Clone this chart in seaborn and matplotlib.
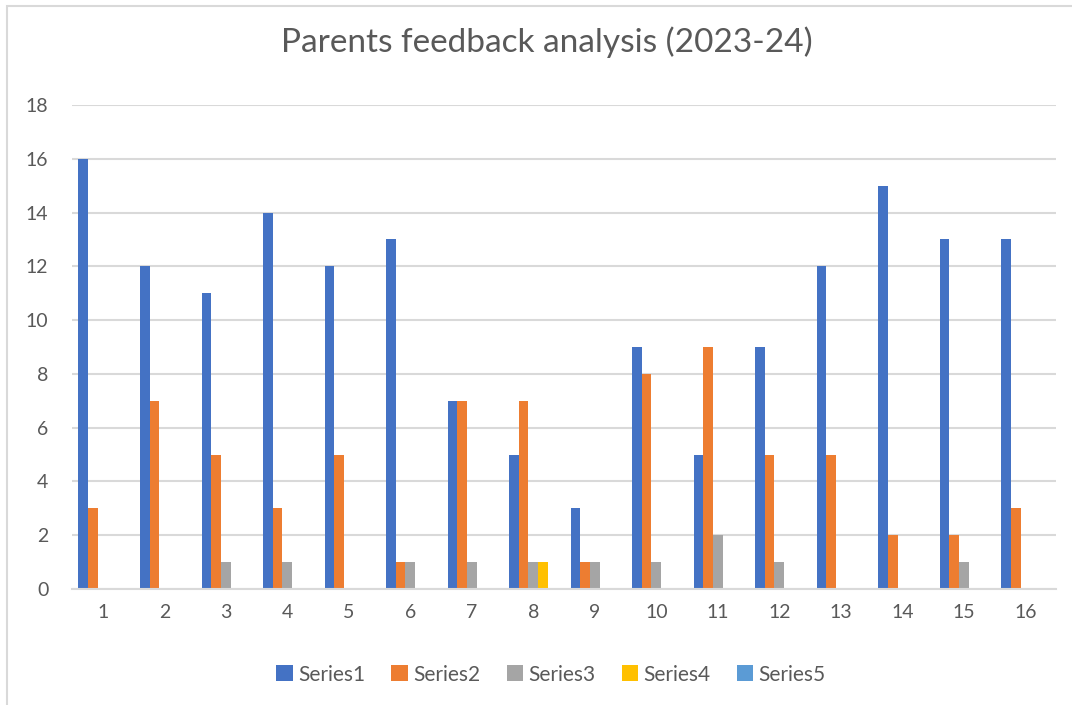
import matplotlib
matplotlib.use("Agg")
import matplotlib.pyplot as plt
import seaborn as sns
import pandas as pd
from matplotlib.patches import Rectangle

categories = [str(i) for i in range(1, 17)]
series_names = ["Series1", "Series2", "Series3", "Series4", "Series5"]
series1 = [16, 12, 11, 14, 12, 13, 7, 5, 3, 9, 5, 9, 12, 15, 13, 13]
series2 = [3, 7, 5, 3, 5, 1, 7, 7, 1, 8, 9, 5, 5, 2, 2, 3]
series3 = [0, 0, 1, 1, 0, 1, 1, 1, 1, 1, 2, 1, 0, 0, 1, 0]
series4 = [0, 0, 0, 0, 0, 0, 0, 1, 0, 0, 0, 0, 0, 0, 0, 0]
series5 = [0, 0, 0, 0, 0, 0, 0, 0, 0, 0, 0, 0, 0, 0, 0, 0]
colors = ["#4472C4", "#ED7D31", "#A5A5A5", "#FFC000", "#5B9BD5"]

rows = []
for name, vals in zip(series_names, [series1, series2, series3, series4, series5]):
    for c, v in zip(categories, vals):
        rows.append({"cat": c, "series": name, "value": v})
df = pd.DataFrame(rows)

sns.set_theme(style="white")
plt.rcParams["font.family"] = ["Lato", "DejaVu Sans"]

fig = plt.figure(figsize=(10.72, 7.05), dpi=100)
ax = fig.add_axes([0.0672, 0.1645, 0.918, 0.6865])

sns.barplot(data=df, x="cat", y="value", hue="series", order=categories,
            hue_order=series_names, palette=colors, width=0.79, ax=ax,
            linewidth=0, saturation=1, errorbar=None, legend=True)

ax.set_ylim(0, 18)
ax.set_xlim(-0.5, 15.5)
ax.set_yticks(range(0, 19, 2))
ax.grid(axis="y", color="#D9D9D9", linewidth=1.5)
ax.set_axisbelow(True)
for s in ["top", "right", "left"]:
    ax.spines[s].set_visible(False)
ax.spines["bottom"].set_color("#D9D9D9")
ax.spines["bottom"].set_linewidth(1.5)
ax.tick_params(axis="y", length=0, pad=17, labelsize=14, labelcolor="#595959")
ax.tick_params(axis="x", length=0, pad=11, labelsize=14, labelcolor="#595959")
ax.set_xlabel("")
ax.set_ylabel("")

fig.suptitle("Parents feedback analysis (2023-24)", y=0.962, x=0.51,
             fontsize=24, color="#595959")

handles, labels = ax.get_legend_handles_labels()
ax.legend_.remove()
fig.legend(handles, labels, loc="center", bbox_to_anchor=(0.514, 0.043), ncol=5,
           frameon=False, fontsize=15, labelcolor="#595959",
           handlelength=0.8, handleheight=0.8, handletextpad=0.25,
           columnspacing=1.25)

fig.patches.append(Rectangle((7 / 1072, -0.1), 1.2, 1 - 6 / 705 + 0.1,
                             transform=fig.transFigure, fill=False,
                             edgecolor="#D9D9D9", linewidth=1.5))

fig.savefig("out.png", dpi=100, facecolor="white")
